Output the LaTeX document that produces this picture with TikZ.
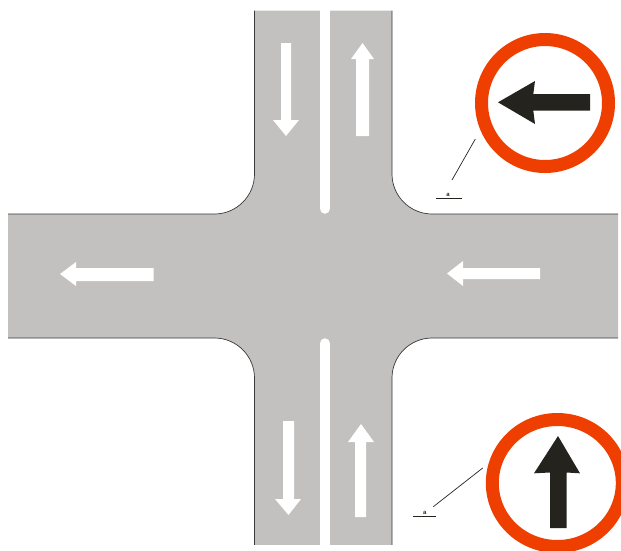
\documentclass[tikz,border=0pt]{standalone}
\usepackage{fontspec}
\setmainfont{Liberation Sans}
\definecolor{roadgrey}{HTML}{C2C1BF}
\definecolor{edgegrey}{HTML}{3A3A38}
\definecolor{signred}{HTML}{EE3F00}
\definecolor{signdark}{HTML}{25231D}
\tikzset{
  road/.style={fill=roadgrey,draw=none},
  edgeline/.style={draw=edgegrey,line width=0.7pt},
  lanearrow/.style={fill=white,draw=none},
  midline/.style={draw=white,line width=10.5pt,line cap=round},
  ring/.style={draw=signred,line width=13pt,fill=white},
  signarrow/.style={fill=signdark,draw=none},
  leader/.style={draw=signdark,line width=0.7pt},
  tinylabel/.style={font=\fontsize{6}{6}\selectfont\bfseries,inner sep=0pt,text=signdark}
}
\begin{document}
\begin{tikzpicture}[x=1pt,y=-1pt]
\useasboundingbox (0,0) rectangle (621,550);
\begin{scope}
\clip (0,0) rectangle (621,550);
% road surface
\fill[road] (254.5,10.5) -- (392,10.5) -- (392,174) .. controls (392,196) and (410,214) .. (432,214)
  -- (618,214) -- (618,338) -- (432,338) .. controls (410,338) and (392,356) .. (392,378)
  -- (392,545) -- (254.5,545) -- (254.5,378) .. controls (254.5,356) and (236.5,338) .. (214.5,338)
  -- (8,338) -- (8,214) -- (214.5,214) .. controls (236.5,214) and (254.5,196) .. (254.5,174) -- cycle;
% road edges
\draw[edgeline] (254.5,10.5) -- (254.5,174) .. controls (254.5,196) and (236.5,214) .. (214.5,214) -- (8,214);
\draw[edgeline] (392,10.5) -- (392,174) .. controls (392,196) and (410,214) .. (432,214) -- (618,214);
\draw[edgeline] (8,338) -- (214.5,338) .. controls (236.5,338) and (254.5,356) .. (254.5,378) -- (254.5,545);
\draw[edgeline] (618,338) -- (432,338) .. controls (410,338) and (392,356) .. (392,378) -- (392,545);
% centre lines
\draw[midline] (324.8,5) -- (324.8,208.5);
\draw[midline] (324.8,343.5) -- (324.8,560);
\fill[white] (0,0) rectangle (621,10);
\fill[white] (0,545.4) rectangle (621,550);
% lane arrows
\fill[lanearrow] (281,43) -- (291,43) -- (291,120) -- (299,120) -- (286,136) -- (273,120) -- (281,120) -- cycle;
\fill[lanearrow] (356,136) -- (369,136) -- (369,59) -- (374,59) -- (362.5,43) -- (351,59) -- (356,59) -- cycle;
\fill[lanearrow] (153.5,268) -- (153.5,281) -- (76,281) -- (76,286) -- (60,274) -- (76,262) -- (76,268) -- cycle;
\fill[lanearrow] (540,268) -- (540,279) -- (463,279) -- (463,286) -- (447,273.5) -- (463,261) -- (463,268) -- cycle;
\fill[lanearrow] (283,421) -- (294,421) -- (294,499) -- (301,499) -- (288.5,515) -- (275,499) -- (283,499) -- cycle;
\fill[lanearrow] (355,517) -- (366,517) -- (366,442) -- (374,442) -- (361,424) -- (348,442) -- (355,442) -- cycle;
% top sign
\draw[ring] (545,103) circle[radius=63.5];
\fill[signarrow] (498,102.3) -- (535,81) -- (533.3,94) -- (590,94) -- (590,110.7) -- (533.3,110.7) -- (535,124) -- cycle;
% bottom sign
\draw[ring] (557.3,483) ellipse[x radius=65,y radius=63.5];
\fill[signarrow] (558,436) -- (580,473.3) -- (566.7,472.5) -- (566.7,528) -- (550,528) -- (550,472.5) -- (534,473.3) -- cycle;
% leaders
\coordinate (topA) at (475.3,139);
\coordinate (topB) at (452,180);
\coordinate (topL) at (436,198.3);
\coordinate (topR) at (462,198.3);
\coordinate (botA) at (482.7,468);
\coordinate (botB) at (433.3,506.7);
\coordinate (botL) at (413,516.7);
\coordinate (botR) at (436,516.7);
\draw[leader] (topA) -- (topB);
\draw[leader] (topL) -- (topR);
\draw[leader] (botA) -- (botB);
\draw[leader] (botL) -- (botR);
\node[tinylabel] (topLabel) at (448,194.5) {a};
\node[tinylabel] (botLabel) at (424.7,513) {a};
\end{scope}
\end{tikzpicture}
\end{document}
